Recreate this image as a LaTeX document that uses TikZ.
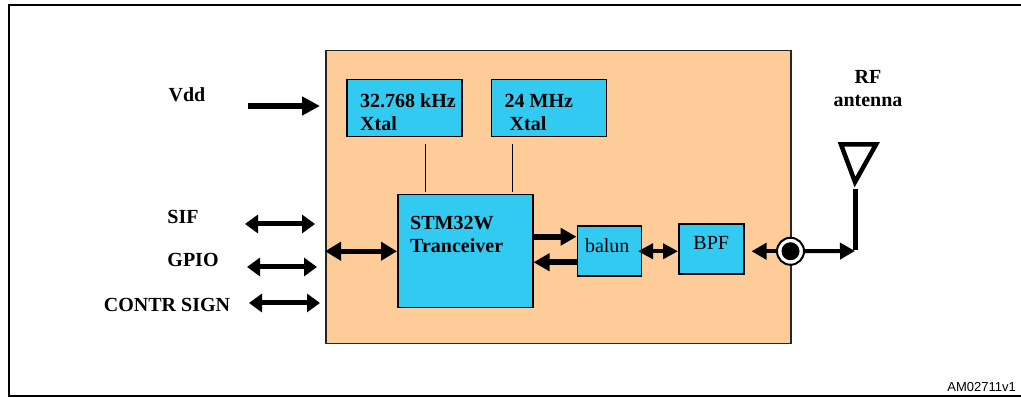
\documentclass[tikz,border=0pt]{standalone}
\usepackage{fontspec}
\setmainfont{Liberation Serif}
\newfontfamily\refsans{Liberation Sans}
\usetikzlibrary{positioning, calc, arrows.meta}
\definecolor{chippeach}{RGB}{253,204,153}
\definecolor{blockblue}{RGB}{51,202,242}

\begin{document}
\begin{tikzpicture}[x=1pt, y=1pt,
    chip/.style={rectangle, 
      draw=black!85, 
      line width=1.5pt, 
      fill=chippeach, 
      inner sep=0pt},
    block/.style={rectangle, 
      draw, 
      line width=1.5pt, 
      fill=blockblue, 
      inner sep=0pt},
    sigtext/.style={font=\fontsize{20}{23}\selectfont\bfseries, 
      align=left, 
      inner sep=0pt},
    plaintext/.style={font=\fontsize{20}{23}\selectfont, 
      inner sep=0pt},
    fatarrow/.style={line width=6pt, -{Triangle[length=18pt,width=18pt]}},
    linkarrow/.style={line width=6pt, -{Triangle[length=16pt,width=17pt]}},
    busarrow/.style={line width=5pt, 
      {Triangle[length=#1,width=18pt]}-{Triangle[length=#1,width=18pt]}},
    busarrow/.default=13pt,
    rfarrow/.style={line width=4pt, -{Triangle[length=15pt,width=16pt]}}]

  \useasboundingbox (0,0) rectangle (1021,398);

  % frame
  \draw[line width=2pt] (9,2) rectangle (1030,393);

  \node [chip, 
    minimum width=465pt, 
    minimum height=293pt, 
    anchor=north west] (chip) at (325,348) {};

  % crystals
  \node [block, 
    minimum width=115pt, 
    minimum height=57pt, 
    anchor=north west] (xtalA) at (346,319) {};
  \node [sigtext, anchor=west] (xtalAtext) at ($(xtalA.west)+(14,-3.5)$) 
    {32.768 kHz\\Xtal};

  \node [block, 
    minimum width=115pt, 
    minimum height=57pt, 
    right=28pt of xtalA] (xtalB) {};
  \node [sigtext, anchor=west] (xtalBtext) at ($(xtalB.west)+(14,-4.5)$) 
    {24 MHz\\\hspace*{5pt}Xtal};

  % transceiver
  \node [block, 
    minimum width=135pt, 
    minimum height=113pt, 
    anchor=north west] (stm) at (397,204) {};
  \node [sigtext, anchor=west] (stmtext) at ($(stm.west)+(13,17)$) 
    {STM32W\\Tranceiver};

  \coordinate (tapA) at ($(stm.north west)+(28,0)$);
  \coordinate (tapB) at ($(stm.north east)+(-21,0)$);
  \draw[line width=1pt] ($(tapA)+(0,2)$) -- ($(tapA |- xtalA.south)+(0,-7)$);
  \draw[line width=1pt] ($(tapB)+(0,2)$) -- ($(tapB |- xtalB.south)+(0,-7)$);

  % rf chain
  \node [block, 
    minimum width=64pt, 
    minimum height=50pt, 
    right=43pt of stm] (balun) {};
  \node [plaintext] (baluntext) at ($(balun.center)+(-2,6)$) {balun};

  \node [block, 
    minimum width=65pt, 
    minimum height=50pt, 
    right=36pt of balun, 
    yshift=2pt] (bpf) {};
  \node [plaintext] (bpftext) at ($(bpf.center)+(0,6.5)$) {BPF};

  \node [circle, 
    draw, 
    line width=2pt, 
    fill=white, 
    minimum size=27pt, 
    inner sep=0pt] (port) at ($(chip.east |- balun.east)+(-1,0)$) {};
  \node [circle, fill=black, minimum size=18pt, inner sep=0pt] (portdot) at (port) {};

  \draw[busarrow=16pt] (chip.west |- stm.west) -- (stm.west);
  \draw[linkarrow] ([yshift=14.5pt]stm.east) -- ([yshift=14.5pt]balun.west);
  \draw[linkarrow] ([yshift=-11pt]balun.west) -- ([yshift=-11pt]stm.east);
  \draw[line width=4pt, 
    {Triangle[length=15pt,width=15pt]}-{Triangle[length=15pt,width=15pt]}] 
    ([xshift=-4pt]balun.east) -- (bpf.west |- balun.east);
  \draw[rfarrow] (port.west) -- ($(bpf.east |- port.west)+(7,0)$);

  % antenna
  \coordinate (feed) at (855,147);
  \coordinate (mast) at (855,209);
  \draw[rfarrow] (port.east) -- (feed);
  \draw[line width=5pt] ($(feed)+(0,1)$) -- (mast);
  \draw[line width=4.5pt, line join=miter] (841,253.5) -- (876,253.5) 
    -- (855,216) -- cycle;
  \node [sigtext, align=center] (rftext) at (868,309.5) {RF\\antenna};

  % interface signals
  \node [sigtext] (vddtext) at (187,303) {Vdd};
  \coordinate (vddtail) at (248,292);
  \draw[fatarrow] (vddtail) -- ([xshift=-5pt]chip.west |- vddtail);

  \node [sigtext] (siftext) at (183,181) {SIF};
  \coordinate (siftail) at (245,174);
  \draw[busarrow] (siftail) -- ++(70,0);

  \node [sigtext] (gpiotext) at (193,138) {GPIO};
  \coordinate (gpiotail) at (247,131);
  \draw[busarrow] (gpiotail) -- ++(70,0);

  \node [sigtext] (contrtext) at (167,93) {CONTR SIGN};
  \coordinate (contrtail) at (249,95);
  \draw[busarrow] (contrtail) -- ([xshift=-5pt]chip.west |- contrtail);

  \node [font=\refsans\fontsize{13}{15}\selectfont, 
    anchor=east, 
    inner sep=0pt] (figid) at (1016,11) {AM02711v1};

\end{tikzpicture}
\end{document}
